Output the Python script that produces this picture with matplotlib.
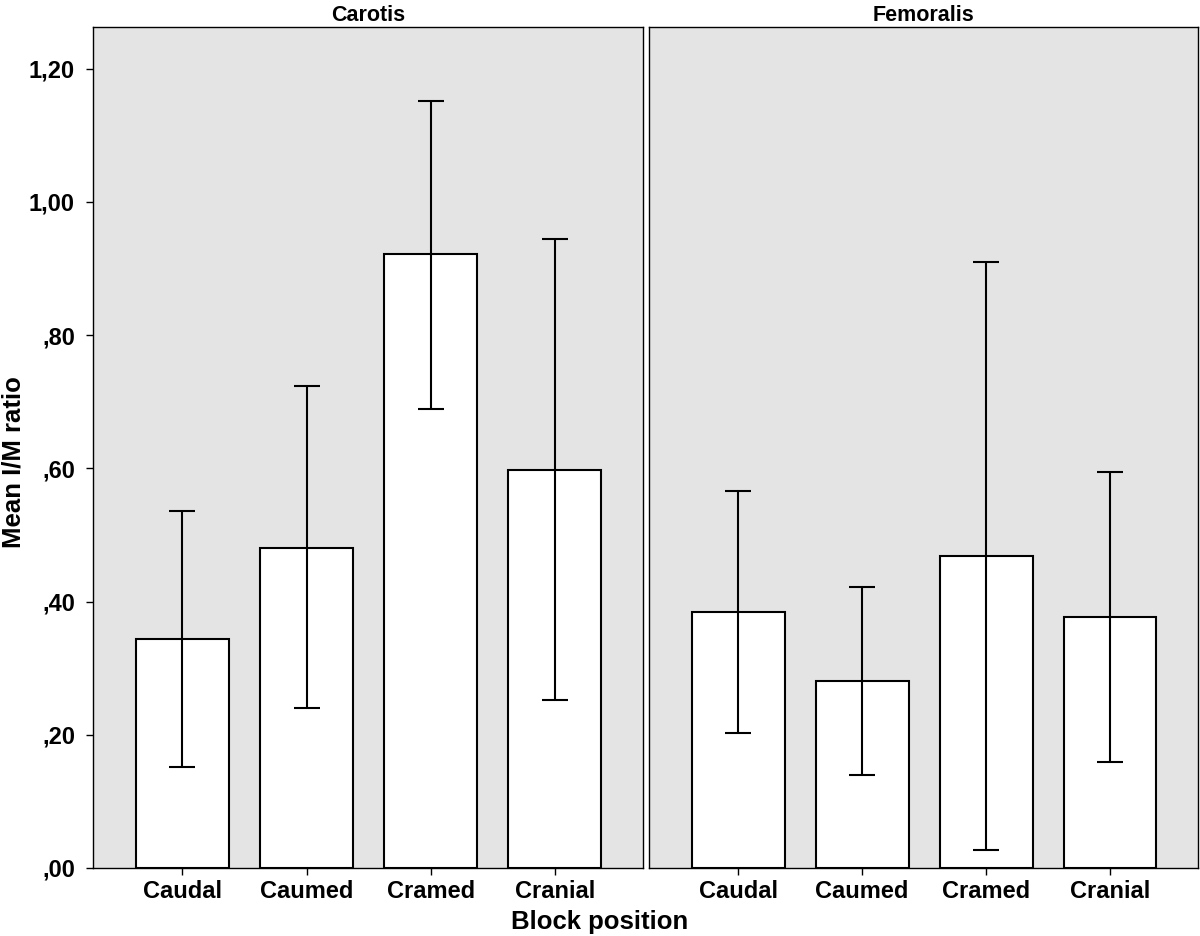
import numpy as np
import matplotlib
matplotlib.use('Agg')
import matplotlib.pyplot as plt

plt.rcParams['font.family'] = ['Liberation Sans', 'DejaVu Sans']
plt.rcParams['font.weight'] = 'bold'

categories = ['Caudal', 'Caumed', 'Cramed', 'Cranial']
panels = ['Carotis', 'Femoralis']

carotis_mean = [0.343, 0.481, 0.921, 0.598]
carotis_lo = [0.151, 0.240, 0.689, 0.252]
carotis_hi = [0.536, 0.723, 1.151, 0.944]

femoralis_mean = [0.384, 0.281, 0.468, 0.376]
femoralis_lo = [0.202, 0.140, 0.027, 0.159]
femoralis_hi = [0.566, 0.422, 0.909, 0.595]

yticks = [0.0, 0.2, 0.4, 0.6, 0.8, 1.0, 1.2]
ytick_labels = [',00', ',20', ',40', ',60', ',80', '1,00', '1,20']

fig = plt.figure(figsize=(12, 9.36), dpi=100)
bottom = 1 - 868 / 936
top = 1 - 27 / 936
ax1 = fig.add_axes([93 / 1200, bottom, 550 / 1200, top - bottom])
ax2 = fig.add_axes([649 / 1200, bottom, 549 / 1200, top - bottom])

data = [(carotis_mean, carotis_lo, carotis_hi),
        (femoralis_mean, femoralis_lo, femoralis_hi)]

x = np.arange(len(categories))
for ax, name, (m, lo, hi) in zip([ax1, ax2], panels, data):
    m = np.array(m)
    err = [m - np.array(lo), np.array(hi) - m]
    ax.set_facecolor('#e4e4e4')
    ax.bar(x, m, width=0.75, color='white', edgecolor='black', linewidth=1.5, zorder=2)
    ax.errorbar(x, m, yerr=err, fmt='none', ecolor='black', elinewidth=1.5,
                capsize=9.7, capthick=1.5, zorder=3)
    ax.set_xlim(-0.72, 3.71)
    ax.set_ylim(0, 1.2623)
    ax.set_xticks(x)
    ax.set_xticklabels(categories, fontsize=17, fontweight='bold')
    ax.tick_params(axis='x', direction='out', length=5, width=1, pad=4)
    for s in ax.spines.values():
        s.set_linewidth(1.0)
        s.set_color('black')
    ax.set_title(name, fontsize=15.5, fontweight='bold', pad=4)

ax1.set_yticks(yticks)
ax1.set_yticklabels(ytick_labels, fontsize=17, fontweight='bold')
ax1.tick_params(axis='y', direction='out', length=5, width=1, pad=8)
ax2.set_yticks([])

fig.text(14 / 1200, 1 - 462 / 936, 'Mean I/M ratio', rotation=90, ha='center', va='center',
         fontsize=18.5, fontweight='bold')
fig.text(0.5, 1 - 922 / 936, 'Block position', ha='center', va='center',
         fontsize=18.5, fontweight='bold')

fig.savefig('out.png', dpi=100)
